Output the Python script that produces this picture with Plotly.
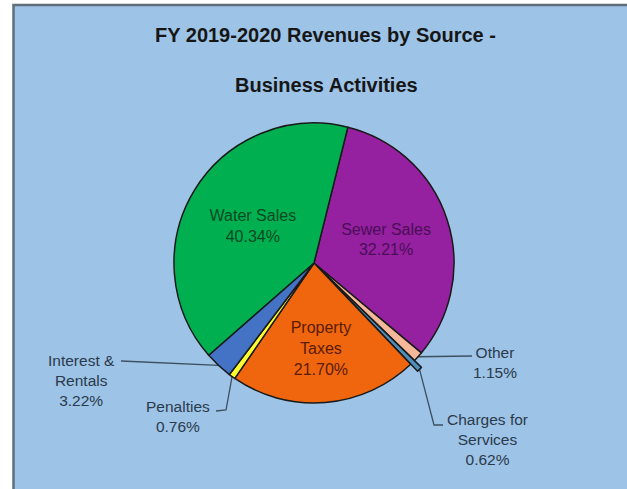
import numpy as np
import plotly.graph_objects as go

# ---- data ----
categories = ["Sewer Sales", "Other", "Charges for Services", "Property Taxes",
              "Penalties", "Interest & Rentals", "Water Sales"]
label_text = ["Sewer Sales", "Other", "Charges for<br>Services", "Property<br>Taxes",
              "Penalties", "Interest &<br>Rentals", "Water Sales"]
shares = [32.21, 1.15, 0.62, 21.70, 0.76, 3.22, 40.34]

# ---- styling ----
slice_colors = ["#9520A0", "#F5B898", "#4F8DBB", "#F0660E", "#FFFF30", "#4472C4", "#00AF50"]
inside_font_colors = ["#4A0E56", "#333333", "#333333", "#5A1C02", "#333333", "#333333", "#0A4A22"]
text_pos = ["inside", "none", "none", "inside", "none", "none", "inside"]
pulls = [0, 0, 0.07, 0, 0, 0, 0]   # the thin "Charges for Services" slice is pulled out

W, H = 627, 489
cx, cy, r = 314, 263, 140          # pie centre and radius in pixels
rotation = 14
max_pull = max(pulls)
D = 2 * r * (1 + max_pull)         # domain box holding the (pulled) pie

fig = go.Figure()

fig.add_trace(go.Pie(
    labels=categories,
    values=shares,
    text=label_text,
    texttemplate="%{text}<br>%{value:.2f}%",
    textposition=text_pos,
    insidetextorientation="horizontal",
    insidetextfont=dict(family="Liberation Sans, Arial, sans-serif", size=16,
                        color=inside_font_colors),
    sort=False,
    direction="clockwise",
    rotation=rotation,
    pull=pulls,
    marker=dict(colors=slice_colors, line=dict(color="#1A1A1A", width=1.5)),
    domain=dict(x=[(cx - D / 2) / W, (cx + D / 2) / W],
                y=[(H - cy - D / 2) / H, (H - cy + D / 2) / H]),
    showlegend=False,
    hoverinfo="label+percent",
))


def edge_point(i, k=1.0):
    """Pixel position on the rim of slice i, at its mid angle."""
    before = sum(shares[:i])
    theta = np.radians(rotation + 360 * (before + shares[i] / 2) / sum(shares))
    rad = r * (k + pulls[i])
    return cx + rad * np.sin(theta), cy - rad * np.cos(theta)


# outside labels: slice index, label centre, leader path from label towards slice
outside = {
    5: dict(pos=(81, 380), path=[(121, 361)]),
    4: dict(pos=(178, 416), path=[(216, 411), (226, 410)]),
    1: dict(pos=(495, 362), path=[(472, 356)]),
    2: dict(pos=(487, 439), path=[(443, 425), (434, 425)]),
}

label_color = "#2B3A4C"
for i, spec in outside.items():
    ex, ey = edge_point(i)
    xs = [p[0] for p in spec["path"]] + [ex]
    ys = [p[1] for p in spec["path"]] + [ey]
    fig.add_trace(go.Scatter(x=xs, y=ys, mode="lines",
                             line=dict(color="#3C5062", width=1.3),
                             hoverinfo="skip", showlegend=False))
    fig.add_annotation(x=spec["pos"][0], y=spec["pos"][1], xref="x", yref="y",
                       text=f"{label_text[i]}<br>{shares[i]:.2f}%",
                       showarrow=False, align="center",
                       font=dict(family="Liberation Sans, Arial, sans-serif",
                                 size=15.5, color=label_color))

# title lines
title_font = dict(family="Liberation Sans, Arial, sans-serif", size=20, color="#161616")
fig.add_annotation(x=325, y=35, xref="x", yref="y", showarrow=False,
                   text="<b>FY 2019-2020 Revenues by Source -</b>", font=title_font)
fig.add_annotation(x=326, y=85, xref="x", yref="y", showarrow=False,
                   text="<b>Business Activities</b>", font=title_font)

# chart-area background with its left/top frame
fig.add_shape(type="rect", xref="x", yref="y", x0=13.5, y0=5, x1=W + 20, y1=H + 20,
              fillcolor="#9DC3E6", line=dict(color="#5E6E7B", width=2.5), layer="below")

fig.update_layout(
    width=W, height=H,
    margin=dict(l=0, r=0, t=0, b=0),
    paper_bgcolor="white",
    plot_bgcolor="rgba(0,0,0,0)",
    xaxis=dict(range=[0, W], visible=False, fixedrange=True),
    yaxis=dict(range=[H, 0], visible=False, fixedrange=True),
)

fig.write_html("out.html")
